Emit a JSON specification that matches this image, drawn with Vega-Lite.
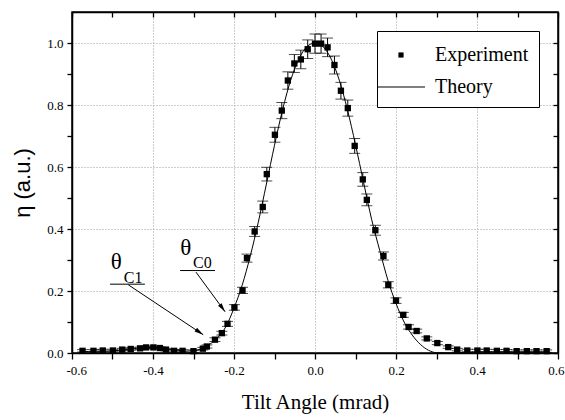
{
  "$schema": "https://vega.github.io/schema/vega-lite/v6.json",
  "width": 486,
  "height": 341,
  "autosize": {"type": "none"},
  "padding": {"left": 72, "top": 12, "right": 7, "bottom": 67},
  "background": "white",
  "config": {
    "view": {"stroke": "black", "strokeWidth": 1.5},
    "axis": {
      "domainColor": "black",
      "domainWidth": 1.5,
      "tickColor": "black",
      "tickWidth": 1.3,
      "labelFont": "Liberation Serif",
      "labelFontSize": 13,
      "labelColor": "black",
      "titleColor": "black",
      "gridColor": "#9a9a9a",
      "gridDash": [1, 2],
      "gridWidth": 1
    }
  },
  "datasets": {
    "exp": [
      {"x": -0.574, "y": 0.007, "err": 0.004},
      {"x": -0.547, "y": 0.007, "err": 0.004},
      {"x": -0.524, "y": 0.008, "err": 0.004},
      {"x": -0.499, "y": 0.008, "err": 0.004},
      {"x": -0.476, "y": 0.011, "err": 0.004},
      {"x": -0.455, "y": 0.013, "err": 0.004},
      {"x": -0.432, "y": 0.015, "err": 0.004},
      {"x": -0.417, "y": 0.018, "err": 0.004},
      {"x": -0.399, "y": 0.018, "err": 0.004},
      {"x": -0.383, "y": 0.016, "err": 0.004},
      {"x": -0.368, "y": 0.011, "err": 0.004},
      {"x": -0.348, "y": 0.007, "err": 0.004},
      {"x": -0.327, "y": 0.007, "err": 0.004},
      {"x": -0.300, "y": 0.006, "err": 0.004},
      {"x": -0.277, "y": 0.014, "err": 0.004},
      {"x": -0.267, "y": 0.021, "err": 0.005},
      {"x": -0.247, "y": 0.043, "err": 0.006},
      {"x": -0.230, "y": 0.064, "err": 0.006},
      {"x": -0.216, "y": 0.094, "err": 0.008},
      {"x": -0.199, "y": 0.147, "err": 0.009},
      {"x": -0.179, "y": 0.202, "err": 0.010},
      {"x": -0.168, "y": 0.306, "err": 0.013},
      {"x": -0.149, "y": 0.392, "err": 0.016},
      {"x": -0.129, "y": 0.471, "err": 0.019},
      {"x": -0.119, "y": 0.577, "err": 0.022},
      {"x": -0.099, "y": 0.704, "err": 0.024},
      {"x": -0.082, "y": 0.782, "err": 0.026},
      {"x": -0.067, "y": 0.879, "err": 0.028},
      {"x": -0.051, "y": 0.934, "err": 0.029},
      {"x": -0.035, "y": 0.947, "err": 0.030},
      {"x": -0.018, "y": 0.980, "err": 0.030},
      {"x": 0.000, "y": 0.998, "err": 0.031},
      {"x": 0.015, "y": 0.998, "err": 0.031},
      {"x": 0.031, "y": 0.986, "err": 0.030},
      {"x": 0.048, "y": 0.929, "err": 0.029},
      {"x": 0.064, "y": 0.846, "err": 0.027},
      {"x": 0.081, "y": 0.790, "err": 0.026},
      {"x": 0.098, "y": 0.668, "err": 0.024},
      {"x": 0.118, "y": 0.560, "err": 0.022},
      {"x": 0.128, "y": 0.494, "err": 0.019},
      {"x": 0.149, "y": 0.396, "err": 0.016},
      {"x": 0.169, "y": 0.313, "err": 0.013},
      {"x": 0.181, "y": 0.220, "err": 0.010},
      {"x": 0.200, "y": 0.169, "err": 0.009},
      {"x": 0.218, "y": 0.123, "err": 0.008},
      {"x": 0.231, "y": 0.084, "err": 0.007},
      {"x": 0.251, "y": 0.071, "err": 0.006},
      {"x": 0.276, "y": 0.047, "err": 0.005},
      {"x": 0.302, "y": 0.032, "err": 0.005},
      {"x": 0.329, "y": 0.019, "err": 0.004},
      {"x": 0.351, "y": 0.011, "err": 0.004},
      {"x": 0.376, "y": 0.008, "err": 0.004},
      {"x": 0.401, "y": 0.008, "err": 0.004},
      {"x": 0.424, "y": 0.008, "err": 0.004},
      {"x": 0.449, "y": 0.007, "err": 0.004},
      {"x": 0.473, "y": 0.007, "err": 0.004},
      {"x": 0.498, "y": 0.006, "err": 0.004},
      {"x": 0.523, "y": 0.006, "err": 0.004},
      {"x": 0.547, "y": 0.006, "err": 0.004},
      {"x": 0.572, "y": 0.006, "err": 0.004}
    ],
    "theory": [
      {"x": -0.58, "y": 0.005}, {"x": -0.56, "y": 0.005}, {"x": -0.54, "y": 0.006},
      {"x": -0.52, "y": 0.006}, {"x": -0.50, "y": 0.007}, {"x": -0.48, "y": 0.009},
      {"x": -0.46, "y": 0.012}, {"x": -0.44, "y": 0.015}, {"x": -0.42, "y": 0.017},
      {"x": -0.40, "y": 0.018}, {"x": -0.38, "y": 0.016}, {"x": -0.36, "y": 0.012},
      {"x": -0.34, "y": 0.008}, {"x": -0.32, "y": 0.006}, {"x": -0.30, "y": 0.007},
      {"x": -0.28, "y": 0.013}, {"x": -0.26, "y": 0.028}, {"x": -0.24, "y": 0.050},
      {"x": -0.22, "y": 0.085}, {"x": -0.20, "y": 0.145}, {"x": -0.18, "y": 0.218},
      {"x": -0.16, "y": 0.312}, {"x": -0.14, "y": 0.422}, {"x": -0.12, "y": 0.545},
      {"x": -0.10, "y": 0.670}, {"x": -0.08, "y": 0.785}, {"x": -0.06, "y": 0.880},
      {"x": -0.04, "y": 0.948}, {"x": -0.02, "y": 0.988}, {"x": 0.00, "y": 1.000},
      {"x": 0.02, "y": 0.988}, {"x": 0.04, "y": 0.948}, {"x": 0.06, "y": 0.880},
      {"x": 0.08, "y": 0.785}, {"x": 0.10, "y": 0.672}, {"x": 0.12, "y": 0.550},
      {"x": 0.14, "y": 0.430}, {"x": 0.16, "y": 0.330}, {"x": 0.18, "y": 0.235},
      {"x": 0.20, "y": 0.160}, {"x": 0.22, "y": 0.100}, {"x": 0.24, "y": 0.058},
      {"x": 0.26, "y": 0.028}, {"x": 0.28, "y": 0.009}, {"x": 0.30, "y": 0.001},
      {"x": 0.33, "y": 0.000}, {"x": 0.36, "y": 0.001}, {"x": 0.40, "y": 0.003},
      {"x": 0.45, "y": 0.004}, {"x": 0.50, "y": 0.004}, {"x": 0.55, "y": 0.004},
      {"x": 0.58, "y": 0.004}
    ],
    "arrows": [
      {"label": "C1", "x": -0.461, "y": 0.220, "x2": -0.276, "y2": 0.059},
      {"label": "C0", "x": -0.294, "y": 0.261, "x2": -0.222, "y2": 0.133}
    ],
    "underlines": [
      {"label": "C1", "x": -0.506, "x2": -0.420, "y": 0.222},
      {"label": "C0", "x": -0.333, "x2": -0.247, "y": 0.266}
    ],
    "thetas": [
      {"label": "C1", "x": -0.491, "y": 0.294, "t": "θ"},
      {"label": "C0", "x": -0.319, "y": 0.339, "t": "θ"}
    ],
    "subs": [
      {"x": -0.472, "y": 0.227, "t": "C1"},
      {"x": -0.301, "y": 0.274, "t": "C0"}
    ]
  },
  "layer": [
    {
      "data": {"name": "theory"},
      "mark": {"type": "line", "color": "black", "strokeWidth": 1, "interpolate": "monotone"},
      "encoding": {
        "x": {
          "field": "x", "type": "quantitative",
          "scale": {"domain": [-0.6, 0.6], "nice": false, "zero": false},
          "axis": {
            "orient": "bottom",
            "title": "Tilt Angle (mrad)",
            "titleFont": "Liberation Serif",
            "titleFontSize": 21,
            "titleFontWeight": "normal",
            "titlePadding": 14,
            "values": [-0.6, -0.5, -0.4, -0.3, -0.2, -0.1, 0, 0.1, 0.2, 0.3, 0.4, 0.5, 0.6],
            "labelExpr": "abs(round(datum.value*10)) % 2 == 0 ? replace(format(datum.value, '.1f'), '−', '-') : ''",
            "labelFont": "Liberation Serif",
            "labelFontSize": 13,
            "labelPadding": 5,
            "labelFlush": true,
            "labelFlushOffset": 6,
            "labelOverlap": false,
            "tickSize": 6,
            "grid": true,
            "gridOpacity": {"condition": {"test": "abs(round(datum.value*10)) % 2 == 0 && abs(datum.value) < 0.59", "value": 1}, "value": 0}
          }
        },
        "y": {
          "field": "y", "type": "quantitative",
          "scale": {"domain": [0, 1.1], "nice": false, "zero": false},
          "axis": {
            "orient": "left",
            "title": "η (a.u.)",
            "titleFont": "Liberation Sans",
            "titleFontSize": 22,
            "titleFontWeight": "normal",
            "titlePadding": 12,
            "values": [0, 0.1, 0.2, 0.3, 0.4, 0.5, 0.6, 0.7, 0.8, 0.9, 1.0],
            "labelExpr": "abs(round(datum.value*10)) % 2 == 0 ? format(datum.value, '.1f') : ''",
            "labelFont": "Liberation Serif",
            "labelFontSize": 13,
            "labelPadding": 4,
            "labelOverlap": false,
            "tickSize": 5,
            "grid": true,
            "gridOpacity": {"condition": {"test": "abs(round(datum.value*10)) % 2 == 0 && datum.value > 0.01", "value": 1}, "value": 0}
          }
        }
      }
    },
    {
      "data": {"name": "exp"},
      "mark": {"type": "errorbar", "ticks": {"size": 11, "color": "black", "thickness": 1}, "rule": {"color": "black", "strokeWidth": 1}},
      "encoding": {
        "x": {
          "field": "x", "type": "quantitative",
          "axis": {
            "orient": "top", "title": null, "labels": false, "grid": false,
            "values": [-0.6, -0.5, -0.4, -0.3, -0.2, -0.1, 0, 0.1, 0.2, 0.3, 0.4, 0.5, 0.6],
            "tickSize": -5
          }
        },
        "y": {
          "field": "y", "type": "quantitative",
          "axis": {
            "orient": "right", "title": null, "labels": false, "grid": false,
            "values": [0, 0.1, 0.2, 0.3, 0.4, 0.5, 0.6, 0.7, 0.8, 0.9, 1.0],
            "tickSize": -5
          }
        },
        "yError": {"field": "err"}
      }
    },
    {
      "data": {"name": "exp"},
      "transform": [{"calculate": "'Experiment'", "as": "series"}],
      "mark": {"type": "point", "filled": true, "color": "black", "opacity": 1, "size": 1000},
      "encoding": {
        "x": {"field": "x", "type": "quantitative", "axis": null},
        "y": {"field": "y", "type": "quantitative", "axis": null},
        "shape": {
          "field": "series", "type": "nominal",
          "scale": {"domain": ["Experiment", "Theory"], "range": ["M-0.2,-0.2H0.2V0.2H-0.2Z", "M-1.85,-0.045H1.85V0.045H-1.85Z"]},
          "legend": {
            "orient": "none",
            "legendX": 305,
            "legendY": 19,
            "title": null,
            "padding": 10,
            "strokeColor": "black",
            "fillColor": "white",
            "symbolSize": 676,
            "symbolFillColor": "black",
            "labelFont": "Liberation Serif",
            "labelFontSize": 20,
            "labelColor": "black",
            "labelOffset": 20,
            "rowPadding": 8
          }
        }
      }
    },
    {
      "data": {"name": "arrows"},
      "mark": {"type": "rule", "color": "black", "strokeWidth": 1},
      "encoding": {
        "x": {"field": "x", "type": "quantitative", "axis": null},
        "y": {"field": "y", "type": "quantitative", "axis": null},
        "x2": {"field": "x2"},
        "y2": {"field": "y2"}
      }
    },
    {
      "data": {"name": "arrows"},
      "transform": [{"filter": "datum.label == 'C1'"}],
      "mark": {"type": "point", "shape": "M0,0L0.5,2L-0.5,2Z", "filled": true, "color": "black", "opacity": 1, "size": 80, "angle": 124},
      "encoding": {
        "x": {"field": "x2", "type": "quantitative", "axis": null},
        "y": {"field": "y2", "type": "quantitative", "axis": null}
      }
    },
    {
      "data": {"name": "arrows"},
      "transform": [{"filter": "datum.label == 'C0'"}],
      "mark": {"type": "point", "shape": "M0,0L0.5,2L-0.5,2Z", "filled": true, "color": "black", "opacity": 1, "size": 80, "angle": 144},
      "encoding": {
        "x": {"field": "x2", "type": "quantitative", "axis": null},
        "y": {"field": "y2", "type": "quantitative", "axis": null}
      }
    },
    {
      "data": {"name": "underlines"},
      "mark": {"type": "rule", "color": "black", "strokeWidth": 1},
      "encoding": {
        "x": {"field": "x", "type": "quantitative", "axis": null},
        "x2": {"field": "x2"},
        "y": {"field": "y", "type": "quantitative", "axis": null}
      }
    },
    {
      "data": {"name": "thetas"},
      "mark": {"type": "text", "font": "Liberation Serif", "fontSize": 23, "align": "center", "baseline": "middle", "color": "black"},
      "encoding": {
        "x": {"field": "x", "type": "quantitative", "axis": null},
        "y": {"field": "y", "type": "quantitative", "axis": null},
        "text": {"field": "t"}
      }
    },
    {
      "data": {"name": "subs"},
      "mark": {"type": "text", "font": "Liberation Serif", "fontSize": 16, "align": "left", "baseline": "alphabetic", "color": "black"},
      "encoding": {
        "x": {"field": "x", "type": "quantitative", "axis": null},
        "y": {"field": "y", "type": "quantitative", "axis": null},
        "text": {"field": "t"}
      }
    }
  ],
  "resolve": {"axis": {"x": "independent", "y": "independent"}}
}
